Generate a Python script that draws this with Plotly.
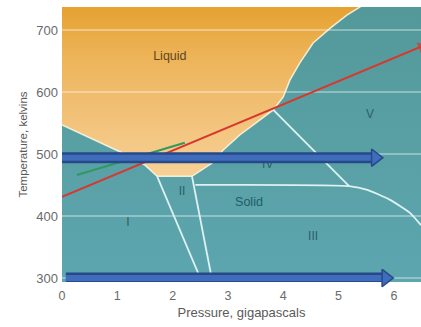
import plotly.graph_objects as go

# Axis ticks
pressure_ticks = [0, 1, 2, 3, 4, 5, 6]
temperature_ticks = [300, 400, 500, 600, 700]
p_range = [0, 6.49]
t_range = [293.5, 737]

# Melting curve (liquid / solid boundary), GPa and K
liquidus_p = [0, 1.085, 1.50, 1.72, 2.35, 2.71, 2.91, 3.22, 3.58, 3.82, 4.0, 4.12, 4.30, 4.54, 4.85, 5.15, 5.44]
liquidus_t = [547, 502, 482, 464, 464, 485, 506, 531, 555, 571, 592, 619, 647, 679, 703, 724, 740]

# Solid-solid phase boundaries
b_1_2_p = [1.72, 2.53]
b_1_2_t = [464, 293.5]
b_2_3_p = [2.35, 2.72]
b_2_3_t = [464, 293.5]
b_4_5_p = [3.82, 5.19]
b_4_5_t = [571, 448]
b_3_p = [2.41, 5.19, 5.52, 5.93, 6.29, 6.49]
b_3_t = [450, 448, 442, 426, 405, 385]

# Trend lines
green_p = [0.27, 2.22]
green_t = [466, 518]
red_p = [0, 6.49]
red_t = [431, 673]

# Isotherm arrows (start pressure, tip pressure, temperature)
iso_upper = [-0.07, 5.80, 494]
iso_lower = [0.07, 5.99, 300]

# Phase labels
phase_names = ["I", "II", "III", "IV", "V"]
phase_p = [1.19, 2.17, 4.54, 3.72, 5.57]
phase_t = [389, 439, 366, 482, 563]

px_per_gpa = 359 / (p_range[1] - p_range[0])

fig = go.Figure()

# Solid background (teal gradient)
fig.add_trace(go.Scatter(
    x=[p_range[0], p_range[1], p_range[1], p_range[0], p_range[0]],
    y=[t_range[0], t_range[0], t_range[1], t_range[1], t_range[0]],
    mode="lines", line=dict(width=0), fill="toself",
    fillgradient=dict(type="vertical", start=300, stop=737,
                      colorscale=[[0, "#5DA5AF"], [0.5, "#59A0A5"], [1, "#53999A"]]),
    hoverinfo="skip", showlegend=False))

# Liquid region
liq_x = liquidus_p + [liquidus_p[-1], p_range[0]]
liq_y = liquidus_t + [t_range[1] + 10, t_range[1] + 10]
fig.add_trace(go.Scatter(
    x=liq_x, y=liq_y, mode="lines", line=dict(width=0), fill="toself",
    fillgradient=dict(type="vertical", start=460, stop=737,
                      colorscale=[[0, "#F7D197"], [0.35, "#F2C27A"], [0.7, "#EDB459"], [1, "#E5A232"]]),
    hoverinfo="skip", showlegend=False))

# Horizontal grid lines
for t in temperature_ticks:
    fig.add_trace(go.Scatter(x=p_range, y=[t, t], mode="lines",
                             line=dict(color="rgba(255,255,255,0.45)", width=1.5),
                             hoverinfo="skip", showlegend=False))

# Melting curve edge
fig.add_trace(go.Scatter(x=liquidus_p, y=liquidus_t, mode="lines",
                         line=dict(color="rgba(255,250,230,0.85)", width=1.5),
                         hoverinfo="skip", showlegend=False))

# Solid phase boundaries
for bx, by in [(b_1_2_p, b_1_2_t), (b_2_3_p, b_2_3_t), (b_4_5_p, b_4_5_t), (b_3_p, b_3_t)]:
    fig.add_trace(go.Scatter(x=bx, y=by, mode="lines", line=dict(color="#DDF2F2", width=1.8, shape="spline", smoothing=0.6),
                             hoverinfo="skip", showlegend=False))

# Phase labels
fig.add_trace(go.Scatter(x=phase_p, y=phase_t, mode="text", text=phase_names,
                         textfont=dict(family="Arial, Liberation Sans", size=12, color="#2B5F66"),
                         hoverinfo="skip", showlegend=False))
fig.add_trace(go.Scatter(x=[1.95], y=[656], mode="text", text=["Liquid"],
                         textfont=dict(family="Arial, Liberation Sans", size=12.5, color="#5E4620"),
                         hoverinfo="skip", showlegend=False))
fig.add_trace(go.Scatter(x=[3.38], y=[421], mode="text", text=["Solid"],
                         textfont=dict(family="Arial, Liberation Sans", size=12.5, color="#1F5D66"),
                         hoverinfo="skip", showlegend=False))

# Green trend line
fig.add_trace(go.Scatter(x=green_p, y=green_t, mode="lines",
                         line=dict(color="#2F9A5E", width=2),
                         hoverinfo="skip", showlegend=False))

# Red arrow
fig.add_trace(go.Scatter(x=red_p, y=red_t, mode="lines+markers",
                         line=dict(color="#D6382E", width=2),
                         marker=dict(symbol="triangle-up", angleref="previous", size=[0, 10],
                                     color="#D6382E", line=dict(width=0)),
                         cliponaxis=False, hoverinfo="skip", showlegend=False))

# Blue isotherm arrows
for start, tip, temp in [iso_upper, iso_lower]:
    head = 15
    head_center = tip - (head / 2) / px_per_gpa
    fig.add_trace(go.Scatter(x=[start, head_center], y=[temp, temp], mode="lines",
                             line=dict(color="#27498A", width=11),
                             hoverinfo="skip", showlegend=False))
    fig.add_trace(go.Scatter(x=[start, head_center], y=[temp, temp], mode="lines",
                             line=dict(color="#3F6DBC", width=6),
                             hoverinfo="skip", showlegend=False))
    fig.add_trace(go.Scatter(x=[head_center], y=[temp], mode="markers",
                             marker=dict(symbol="triangle-right", size=head, color="#3F6DBC",
                                         line=dict(color="#27498A", width=1.5)),
                             cliponaxis=False, hoverinfo="skip", showlegend=False))

fig.update_layout(
    width=421, height=327,
    margin=dict(l=62, r=0, t=7, b=45),
    paper_bgcolor="white", plot_bgcolor="#56A0A6",
    font=dict(family="Arial, Liberation Sans", color="#666666"),
    xaxis=dict(range=p_range, tickvals=pressure_ticks, showgrid=False, zeroline=False,
               showline=False, ticks="", tickfont=dict(size=12.5, color="#6A6A6A"),
               ticklabelstandoff=4,
               title=dict(text="Pressure, gigapascals", font=dict(size=13, color="#5A5A5A"), standoff=6)),
    yaxis=dict(range=t_range, tickvals=temperature_ticks, showgrid=False, zeroline=False,
               showline=False, ticks="", tickfont=dict(size=13, color="#6A6A6A"),
               ticklabelstandoff=3,
               title=dict(text="Temperature, kelvins", font=dict(size=11.5, color="#5A5A5A"), standoff=6)),
)

fig.write_html("out.html")
